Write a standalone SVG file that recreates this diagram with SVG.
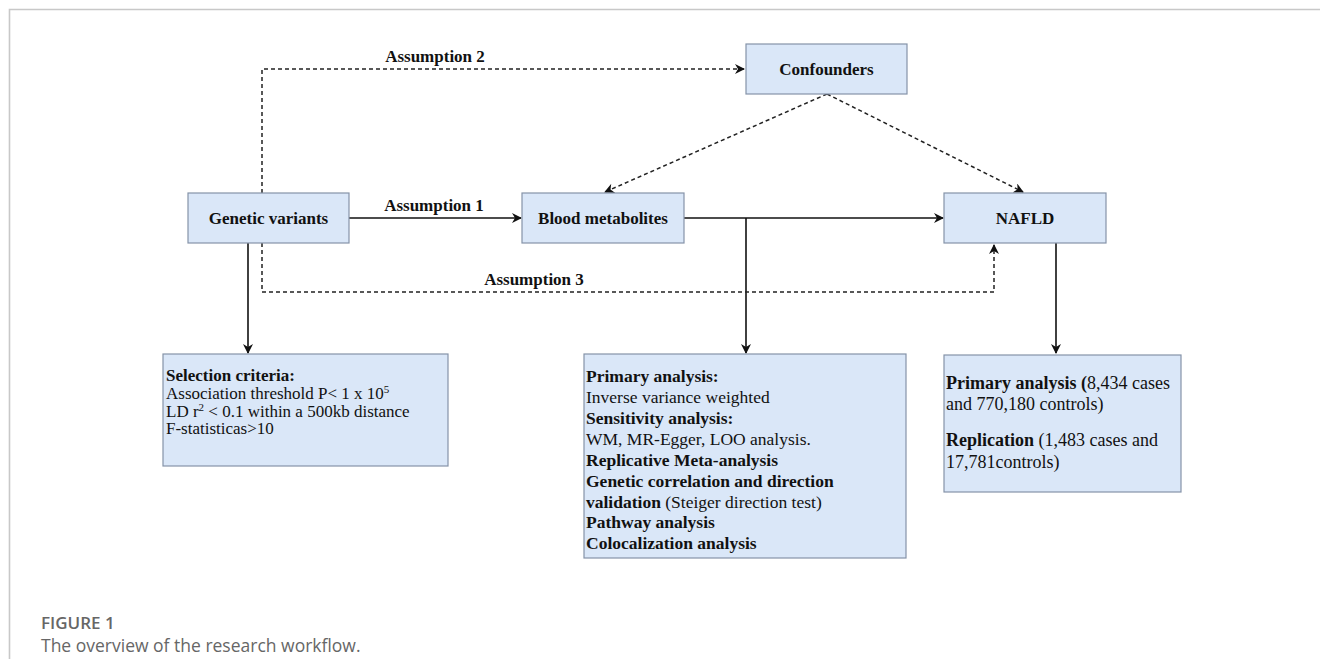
<svg xmlns="http://www.w3.org/2000/svg" width="1320" height="659" viewBox="0 0 1320 659">
<defs>
<style>
.box{fill:#dae7f8;stroke:#8593a8;stroke-width:1.2}
.lbl{font-family:"Liberation Serif",serif;font-weight:bold;font-size:17px;fill:#111;text-anchor:middle}
.t{font-family:"Liberation Serif",serif;font-size:17px;fill:#111}
.m{font-size:17.5px}
.n{font-size:18px}
.b{font-weight:bold}
.solid{fill:none;stroke:#111;stroke-width:1.6}
.dash{fill:none;stroke:#222;stroke-width:1.5;stroke-dasharray:4 3}
.cap{font-family:"Open Sans",sans-serif;fill:#666}
</style>
<marker id="ah" viewBox="0 0 10 10" refX="9" refY="5" markerWidth="10" markerHeight="10" markerUnits="userSpaceOnUse" orient="auto">
<path d="M0,0 L10,5 L0,10 L3,5 Z" fill="#111"/>
</marker>
</defs>
<rect width="1320" height="659" fill="#fff"/>
<path d="M9.5,659 V9.5 H1320" fill="none" stroke="#c8c8c8" stroke-width="1.6"/>

<g id="connectors">
<path class="solid" d="M349,218 H521" marker-end="url(#ah)"/>
<path class="solid" d="M684,218 H943" marker-end="url(#ah)"/>
<path class="solid" d="M746,218 V353" marker-end="url(#ah)"/>
<path class="solid" d="M248,243 V353" marker-end="url(#ah)"/>
<path class="solid" d="M1056,243 V353" marker-end="url(#ah)"/>
<path class="dash" d="M262,193 V69 H744" marker-end="url(#ah)"/>
<path class="dash" d="M262,243 V292 H994 V245" marker-end="url(#ah)"/>
<path class="dash" d="M827,94 L605,192" marker-end="url(#ah)"/>
<path class="dash" d="M827,94 L1023,192" marker-end="url(#ah)"/>
<text class="lbl" x="435" y="62">Assumption 2</text>
<text class="lbl" x="434" y="211">Assumption 1</text>
<text class="lbl" x="534" y="285">Assumption 3</text>
</g>

<g id="confounders">
<rect class="box" x="746" y="44" width="161" height="50"/>
<text class="lbl" x="826.5" y="75">Confounders</text>
</g>
<g id="genetic-variants">
<rect class="box" x="188" y="193" width="161" height="50"/>
<text class="lbl" x="268.5" y="224">Genetic variants</text>
</g>
<g id="blood-metabolites">
<rect class="box" x="522" y="193" width="162" height="50"/>
<text class="lbl" x="603" y="224">Blood metabolites</text>
</g>
<g id="nafld">
<rect class="box" x="944" y="193" width="162" height="50"/>
<text class="lbl" x="1025" y="224">NAFLD</text>
</g>

<g id="selection-criteria">
<rect class="box" x="163" y="354" width="285" height="112"/>
<text class="t b" x="166" y="381">Selection criteria:</text>
<text class="t" x="166" y="399">Association threshold P&lt; 1 x 10<tspan dy="-6" font-size="11">5</tspan></text>
<text class="t" x="166" y="416.5">LD r<tspan dy="-6" font-size="11">2</tspan><tspan dy="6"> &lt; 0.1 within a 500kb distance</tspan></text>
<text class="t" x="166" y="434">F-statisticas&gt;10</text>
</g>

<g id="analysis">
<rect class="box" x="584" y="354" width="322" height="204"/>
<text class="t m b" x="586" y="382">Primary analysis:</text>
<text class="t m" x="586" y="403">Inverse variance weighted</text>
<text class="t m b" x="586" y="424">Sensitivity analysis:</text>
<text class="t m" x="586" y="445">WM, MR-Egger, LOO analysis.</text>
<text class="t m b" x="586" y="466">Replicative Meta-analysis</text>
<text class="t m b" x="586" y="487">Genetic correlation and direction</text>
<text class="t m" x="586" y="508"><tspan class="b">validation </tspan>(Steiger direction test)</text>
<text class="t m b" x="586" y="528">Pathway analysis</text>
<text class="t m b" x="586" y="549">Colocalization analysis</text>
</g>

<g id="nafld-data">
<rect class="box" x="944" y="355" width="237" height="137"/>
<text class="t n" x="946" y="389"><tspan class="b">Primary analysis (</tspan>8,434 cases</text>
<text class="t n" x="946" y="410">and 770,180 controls)</text>
<text class="t n" x="946" y="446"><tspan class="b">Replication</tspan> (1,483 cases and</text>
<text class="t n" x="946" y="468">17,781controls)</text>
</g>

<g id="caption">
<text class="cap" x="41" y="629" font-size="17" font-weight="600">FIGURE 1</text>
<text class="cap" x="41" y="652" font-size="17.5">The overview of the research workflow.</text>
</g>
</svg>
